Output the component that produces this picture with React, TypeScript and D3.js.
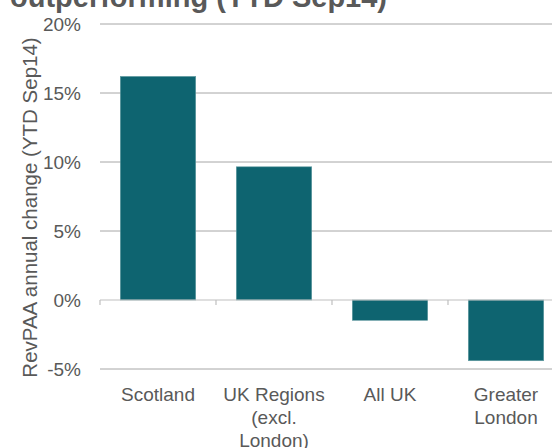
import React from "react";
import * as d3 from "d3";

const categories = ["Scotland", "UK Regions (excl. London)", "All UK", "Greater London"];
const categoryLines = [["Scotland"], ["UK Regions", "(excl.", "London)"], ["All UK"], ["Greater", "London"]];
const values = [16.2, 9.65, -1.47, -4.4];
const yTicks = [-5, 0, 5, 10, 15, 20];
const titleText = "outperforming (YTD Sep14)";
const yAxisTitle = "RevPAA annual change (YTD Sep14)";

const W = 552;
const H = 448;
const font = "Liberation Sans, Arial, sans-serif";
const textColor = "#595959";

export default function App() {
  const x = d3.scaleBand<string>().domain(categories).range([100, 564]).paddingInner(0.35).paddingOuter(0.175);
  const band = d3.scaleBand<string>().domain(categories).range([100, 564]);
  const y = d3.scaleLinear().domain([-5, 20]).range([369, 24]);

  return (
    <svg width={W} height={H} style={{ position: "absolute", left: 0, top: 0 }} fontFamily={font}>
      <rect width={W} height={H} fill="#fff" />
      <text x={10} y={7} fontSize={29} fontWeight="bold" fill={textColor}>{titleText}</text>
      {yTicks.map((t) => (
        <g key={t}>
          {t !== 0 && (
            <line x1={100} x2={W} y1={y(t)} y2={y(t)} stroke="#a6a6a6" strokeWidth={1} />
          )}
          <text x={81} y={y(t)} dy="0.35em" textAnchor="end" fontSize={19} fill={textColor}>
            {t}%
          </text>
        </g>
      ))}
      {categories.map((c, i) => {
        const v = values[i];
        const y0 = y(Math.max(0, v));
        const y1 = y(Math.min(0, v));
        return (
          <rect key={c} x={x(c)} y={y0} width={x.bandwidth()} height={y1 - y0}
            fill="#0e6470" stroke="#5f9aa0" strokeWidth={0.6} />
        );
      })}
      <line x1={100} x2={W} y1={y(0)} y2={y(0)} stroke="#bfbfbf" strokeWidth={1.2} />
      {categories.map((c) => (
        <line key={c} x1={band(c)} x2={band(c)} y1={y(0)} y2={y(0) + 5} stroke="#bfbfbf" strokeWidth={1.2} />
      ))}
      {categories.map((c, i) => (
        <text key={c} x={(band(c) as number) + band.bandwidth() / 2} textAnchor="middle" fontSize={19} fill={textColor}>
          {categoryLines[i].map((l, j) => (
            <tspan key={j} x={(band(c) as number) + band.bandwidth() / 2} y={401 + j * 23}>{l}</tspan>
          ))}
        </text>
      ))}
      <text transform={`translate(37,207.5) rotate(-90)`} textAnchor="middle" fontSize={20.5} fill={textColor}>
        {yAxisTitle}
      </text>
    </svg>
  );
}
